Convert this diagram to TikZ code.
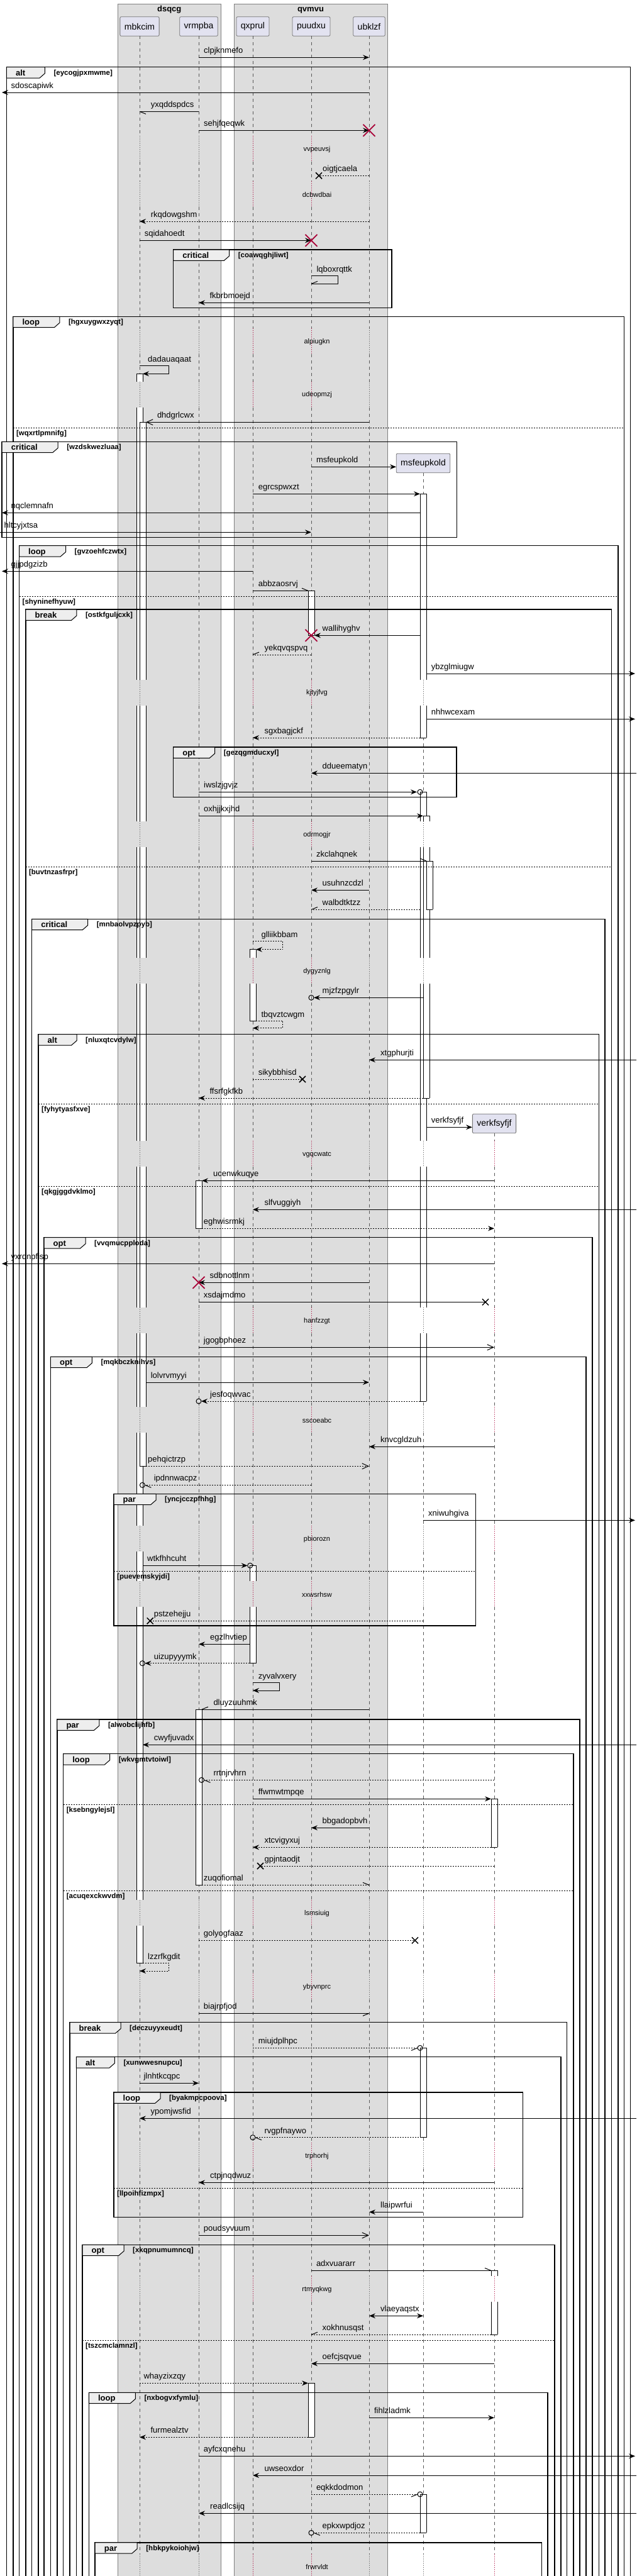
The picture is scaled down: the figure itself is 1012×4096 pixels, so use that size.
\documentclass[tikz,border=0pt]{standalone}
\usepackage{fontspec}
\setmainfont{Liberation Sans}
\usetikzlibrary{arrows.meta}
\definecolor{grp}{HTML}{DDDDDD}
\definecolor{partc}{HTML}{E2E2F0}
\definecolor{tabc}{HTML}{EEEEEE}
\definecolor{crim}{HTML}{A80036}
\tikzset{
 msg/.style={line width=1pt},
 dt/.style={dash pattern=on 2pt off 2pt},
 fh/.style={-{Stealth[length=10pt,width=8pt,inset=3.5pt]}},
 fhb/.style={{Stealth[length=10pt,width=8pt,inset=3.5pt]}-{Stealth[length=10pt,width=8pt,inset=3.5pt]}},
 oh/.style={-{Straight Barb[length=10pt,width=9pt]}},
 lab/.style={font=\fontsize{13}{15}\selectfont, anchor=base west, inner sep=0pt},
 dlab/.style={font=\fontsize{11}{13}\selectfont, inner sep=0pt},
 kindlab/.style={font=\fontsize{13}{15}\selectfont\bfseries, anchor=base west, inner sep=0pt},
 condlab/.style={font=\fontsize{11.5}{13}\selectfont\bfseries, anchor=base west, inner sep=0pt},
 grplab/.style={font=\fontsize{13}{15}\selectfont\bfseries, anchor=base, inner sep=0pt},
 pbox/.style={draw=black!55, line width=0.8pt, fill=partc, rounded corners=2pt, font=\fontsize{14}{16}\selectfont, inner xsep=7pt, inner ysep=0pt, minimum height=30.6pt},
 life/.style={draw=black!65, line width=0.6pt, dash pattern=on 5pt off 5pt},
 dly/.style={line width=0.7pt, dash pattern=on 1pt off 2pt},
}
\def\dashsegs{57.3/215.8, 256.8/287.8, 328.8/521.8, 562.8/606.5, 647.5/1080.5, 1121.5/1306.2, 1347.2/1523.2, 1564.2/1814.2, 1855.2/2078.8, 2119.8/2237.2, 2278.2/2425.8, 2466.8/2514.2, 2555.2/3021.2, 3062.2/3138.2, 3179.2/3406.8, 3447.8/3619.2, 3660.2/4060.5}
\def\dotsegs{215.8/256.8, 287.8/328.8, 521.8/562.8, 606.5/647.5, 1080.5/1121.5, 1306.2/1347.2, 1523.2/1564.2, 1814.2/1855.2, 2078.8/2119.8, 2237.2/2278.2, 2425.8/2466.8, 2514.2/2555.2, 3021.2/3062.2, 3138.2/3179.2, 3406.8/3447.8, 3619.2/3660.2, 4060.5/4101.5}
\newcommand\QLife[3]{%
 \foreach \p/\q in \dashsegs {\pgfmathsetmacro\pp{max(\p,#2)}\ifdim\pp pt<\q pt\relax\draw[life] (#1,\pp) -- (#1,\q);\fi}%
 \foreach \p/\q in \dotsegs {\pgfmathsetmacro\pp{max(\p,#2)}\ifdim\pp pt<\q pt\relax\draw[dly,#3] (#1,\pp) -- (#1,\q);\fi}}
\newcommand\QAS[4]{\fill[white] (#1,#3) rectangle (#2,#4); \draw[line width=0.8pt] (#1,#3) -- (#1,#4) (#2,#3) -- (#2,#4);}
\newcommand\QAH[3]{\draw[line width=0.8pt] (#1,#3) -- (#2,#3);}
\newcommand\QMsg[6]{\draw[msg,#4] (#1,#3) -- (#2,#3); \node[lab] (m#5) at (#6,#3-6.5) {#5};}
\newcommand\QSelf[8]{\draw[msg,#6] (#1,#3) -- (#2,#3) -- (#2,#4) -- (#5,#4); \node[lab] (m#7) at (#8,#3-6) {#7};}
\newcommand\QBarb[3]{\draw[msg] (#1,#2) -- ++(#3);}
\newcommand\QCirc[2]{\draw[msg] (#1,#2) circle[radius=4];}
\newcommand\QXb[2]{\draw[line width=1.5pt] (#1-5,#2-5) -- (#1+5,#2+5) (#1-5,#2+5) -- (#1+5,#2-5);}
\newcommand\QXr[2]{\draw[crim,line width=1.8pt] (#1-9.5,#2-9.5) -- (#1+9.5,#2+9.5) (#1-9.5,#2+9.5) -- (#1+9.5,#2-9.5);}
\newcommand\QFrm[8]{%
 \draw[line width=1.5pt] (#1,#3) rectangle (#2,#4);
 \draw[line width=1pt, fill=tabc] (#1,#3) -- (#1+#6,#3) -- (#1+#6,#3+10) -- (#1+#6-8.4,#3+17.3) -- (#1,#3+17.3) -- cycle;
 \node[kindlab] (k#8) at (#1+14.5,#3+13.5) {#5};
 \node[condlab] (c#8) at (#1+#6+14,#3+12.5) {#7};}
\newcommand\QSep[5]{\draw[line width=1pt,dt] (#1,#3) -- (#2,#3); \node[condlab] (s#4) at (#1+5,#3+12) {#5};}
\newcommand\QDly[2]{\node[dlab] (d#2) at (504,#1) {#2};}
\begin{document}
\begin{tikzpicture}[x=1pt,y=-1pt]
\useasboundingbox (0,0) rectangle (1012,4096);
\fill[white] (0,0) rectangle (1012,4096);
% group boxes
\fill[grp] (187.5,6) rectangle (351,4110);
\draw[black!50,line width=0.6pt] (187.5,4110) -- (187.5,6) -- (351,6) -- (351,4110);
\fill[grp] (372,6) rectangle (616,4110);
\draw[black!50,line width=0.6pt] (372,4110) -- (372,6) -- (616,6) -- (616,4110);
\node[grplab] (g-dsqcg) at (269.25,18) {dsqcg};
\node[grplab] (g-qvmvu) at (494,18) {qvmvu};
% participants
\node[pbox] (p-mbkcim) at (222,42) {mbkcim};
\node[pbox] (p-vrmpba) at (316,42) {vrmpba};
\node[pbox] (p-qxprul) at (402,42) {qxprul};
\node[pbox] (p-puudxu) at (495,42) {puudxu};
\node[pbox] (p-ubklzf) at (587,42) {ubklzf};
\node[pbox] (p-msf) at (673,736.5) {msfeupkold};
\node[pbox] (p-verk) at (786,1786.5) {verkfsyfjf};
% lifelines
\QLife{222}{57.3}{black!65}
\QLife{316}{57.3}{black!65}
\QLife{402}{57.3}{crim}
\QLife{495}{57.3}{crim}
\QLife{587}{57.3}{black!65}
\QLife{673}{752.3}{black!65}
\QLife{786}{1802.3}{crim}
% activations
\foreach \p/\q in {594.3/606.5, 647.5/1080.5, 1121.5/1306.2, 1347.2/1523.2, 1564.2/1814.2, 1855.2/2078.8, 2119.8/2237.2, 2278.2/2425.8, 2466.8/2514.2, 2555.2/3021.2, 3062.2/3121.3} {\QAS{217}{227}{\p}{\q}}
\QAH{217}{227}{594.3} \QAH{217}{227}{3121.3}
\foreach \p/\q in {671.3/1080.5, 1121.5/1306.2, 1347.2/1523.2, 1564.2/1814.2, 1855.2/2078.8, 2119.8/2237.2, 2278.2/2331.3} {\QAS{222}{232}{\p}{\q}}
\QAH{222}{232}{671.3} \QAH{222}{232}{2331.3}
\QAS{311}{321}{1877.3}{1953.3} \QAH{311}{321}{1877.3} \QAH{311}{321}{1953.3}
\QAS{311}{321}{2718}{2997.3} \QAH{311}{321}{2718} \QAH{311}{321}{2997.3}
\QAS{397}{407}{1509.7}{1523.2} \QAS{397}{407}{1564.2}{1623} \QAH{397}{407}{1509.7} \QAH{397}{407}{1623}
\QAS{397}{407}{2489.3}{2514.2} \QAS{397}{407}{2555.2}{2644.7} \QAH{397}{407}{2489.3} \QAH{397}{407}{2644.7}
\QAS{490}{500}{939.3}{1010.3} \QAH{490}{500}{939.3} \QAH{490}{500}{1010.3}
\QAS{490}{500}{3789.3}{3875.3} \QAH{490}{500}{3789.3} \QAH{490}{500}{3875.3}
\QAS{668}{678}{785.3}{1080.5} \QAS{668}{678}{1121.5}{1173} \QAH{668}{678}{785.3} \QAH{668}{678}{1173}
\foreach \p/\q in {1259.3/1306.2, 1347.2/1523.2, 1564.2/1814.2, 1855.2/2078.8, 2119.8/2228} {\QAS{668}{678}{\p}{\q}}
\QAH{668}{678}{1259.3} \QAH{668}{678}{2228}
\foreach \p/\q in {1297.3/1306.2, 1347.2/1523.2, 1564.2/1746} {\QAS{673}{683}{\p}{\q}}
\QAH{673}{683}{1297.3} \QAH{673}{683}{1746}
\QAS{678}{688}{1369}{1446.3} \QAH{678}{688}{1369} \QAH{678}{688}{1446.3}
\QAS{668}{678}{3256.3}{3398.7} \QAH{668}{678}{3256.3} \QAH{668}{678}{3398.7}
\QAS{668}{678}{3966}{4027.3} \QAH{668}{678}{3966} \QAH{668}{678}{4027.3}
\QAS{781}{791}{2860.3}{2937.3} \QAH{781}{791}{2860.3} \QAH{781}{791}{2937.3}
\QAS{781}{791}{3610.3}{3619.2} \QAS{781}{791}{3660.2}{3712.3} \QAH{781}{791}{3610.3} \QAH{781}{791}{3712.3}
% frames
\QFrm{10.4}{1002.6}{106.7}{4110}{alt}{61}{[eycogjpxmwme]}{f1}
\QFrm{275.7}{622.8}{397}{489.3}{critical}{89}{[coawqghjliwt]}{f2}
\QFrm{20.8}{992.5}{503.3}{4110}{loop}{74}{[hgxuygwxzyqt]}{f3}
\QSep{20.8}{992.5}{680.3}{s3a}{[wqxrtlpmnifg]}
\QFrm{3.2}{726.6}{702.3}{854.7}{critical}{89}{[wzdskwezluaa]}{f4}
\QFrm{30.5}{982.8}{867.7}{4110}{loop}{74}{[gvzoehfczwtx]}{f5}
\QSep{30.5}{982.8}{948.3}{s5a}{[shyninefhyuw]}
\QFrm{40.9}{972.4}{969}{4110}{break}{81}{[ostkfguljcxk]}{f6}
\QSep{40.9}{972.4}{1378}{s6a}{[buvtnzasfrpr]}
\QFrm{275.7}{726}{1188}{1267.7}{opt}{66}{[gezqgmducxyl]}{f7}
\QFrm{50.6}{962}{1461.3}{4110}{critical}{89}{[mnbaolvpzpyb]}{f8}
\QFrm{61}{952.3}{1644.7}{4110}{alt}{61}{[nluxqtcvdylw]}{f9}
\QSep{61}{952.3}{1755}{s9a}{[fyhytyasfxve]}
\QSep{61}{952.3}{1886}{s9b}{[qkgjggdvklmo]}
\QFrm{70}{942}{1967.7}{4110}{opt}{66}{[vvqmucpploda]}{f10}
\QFrm{80.4}{932.2}{2157.3}{4110}{opt}{66}{[mqkbczknihvs]}{f11}
\QFrm{181}{756.4}{2375.3}{2585}{par}{67}{[yncjcczpfhhg]}{f12}
\QSep{181}{756.4}{2498.3}{s12a}{[puevemskyjdi]}
\QFrm{90.8}{921.8}{2734}{4110}{par}{67}{[alwobclijhfb]}{f13}
\QFrm{100.6}{912}{2788.7}{4110}{loop}{74}{[wkvgmtvtoiwl]}{f14}
\QSep{100.6}{912}{2869.3}{s14a}{[ksebngylejsl]}
\QSep{100.6}{912}{3006.3}{s14b}{[acuqexckwvdm]}
\QFrm{111}{901.7}{3215.7}{4110}{break}{81}{[deczuyyxeudt]}{f15}
\QFrm{121.3}{892}{3270.7}{4110}{alt}{61}{[xunwwesnupcu]}{f16}
\QFrm{181}{831.7}{3327}{3525.7}{loop}{74}{[byakmpcpoova]}{f17}
\QSep{181}{831.7}{3479.3}{s17a}{[llpoihfizmpx]}
\QFrm{131}{882.2}{3569.3}{4110}{opt}{66}{[xkqpnumumncq]}{f18}
\QSep{131}{882.2}{3721.3}{s18a}{[tszcmclamnzl]}
\QFrm{141.4}{871.2}{3804.3}{4110}{loop}{74}{[nxbogvxfymlu]}{f19}
\QFrm{151.2}{861.5}{4042.7}{4110}{par}{67}{[hbkpykoiohjw]}{f20}
% messages
\QMsg{316}{587}{91.3}{fh}{clpjknmefo}{324}
\QMsg{587}{3}{147}{fh}{sdoscapiwk}{17.5}
\QMsg{316}{222}{177.3}{}{yxqddspdcs}{239.6} \QBarb{222}{177.3}{10,4}
\QMsg{316}{587}{207.3}{fh}{sehjfqeqwk}{324} \QXr{587}{207.3}
\QDly{237.3}{vvpeuvsj}
\QMsg{587}{507}{279.3}{dt}{oigtjcaela}{513} \QXb{507}{279.3}
\QDly{309.3}{dcbwdbai}
\QMsg{587}{222}{352}{dt,fh}{rkqdowgshm}{239.6}
\QMsg{222}{495}{382.3}{fh}{sqidahoedt}{229.6} \QXr{495}{382.3}
\QSelf{495}{537}{438.7}{451.3}{495}{}{lqboxrqttk}{503.4} \QBarb{495}{451.3}{10,-4}
\QMsg{587}{316}{481.3}{fh}{fkbrbmoejd}{333.4}
\QDly{543.3}{alpiugkn}
\QSelf{222}{268.6}{581}{594.3}{227}{fh}{dadauaqaat}{235}
\QDly{628}{udeopmzj}
\QMsg{587}{232}{671.3}{oh}{dhdgrlcwx}{249.8}
\QMsg{495}{630}{742.3}{fh}{msfeupkold}{502.8}
\QMsg{402}{668}{785.3}{fh}{egrcspwxzt}{410.6}
\QMsg{668}{3}{815.3}{fh}{nqclemnafn}{17.5}
\QMsg{0}{495}{846.3}{fh}{hltcyjxtsa}{6.5}
\QMsg{402}{3}{908.3}{fh}{gjjpdgzizb}{17.5}
\QMsg{402}{490}{939.3}{}{abbzaosrvj}{410.6} \QBarb{490}{939.3}{-10,-4}
\QMsg{668}{500}{1010.3}{fh}{wallihyghv}{512.5} \QXr{495}{1010.3}
\QMsg{495}{402}{1041}{dt}{yekqvqspvq}{420.4} \QBarb{402}{1041}{10,-4}
\QMsg{678}{1010}{1071}{fh}{ybzglmiugw}{685.7}
\QDly{1102}{kjtyjfvg}
\QMsg{678}{1010}{1143.3}{fh}{nhhwcexam}{685.7}
\QMsg{668}{402}{1173}{dt,fh}{sgxbagjckf}{420.4}
\QMsg{1012}{495}{1229.3}{fh}{ddueematyn}{512.5}
\QMsg{316}{663}{1259.3}{fh}{iwslzjgvjz}{324} \QCirc{668}{1259.3}
\QMsg{316}{673}{1297.3}{fh}{oxhjjkxjhd}{324}
\QDly{1327.7}{odrmogjr}
\QMsg{495}{678}{1369}{}{zkclahqnek}{502.8} \QBarb{678}{1369}{-10,-4}
\QMsg{587}{495}{1415.3}{fh}{usuhnzcdzl}{512.5}
\QMsg{668}{495}{1446.3}{dt}{walbdtktzz}{512.5} \QBarb{495}{1446.3}{10,-4}
\QSelf{402}{449.6}{1496.3}{1509.7}{407}{dt,fh}{glliikbbam}{415.4}
\QDly{1544.7}{dygyznlg}
\QMsg{673}{499}{1586.3}{fh}{mjzfzpgylr}{512.5} \QCirc{495}{1586.3}
\QSelf{407}{449.6}{1623}{1634.7}{402}{dt,fh}{tbqvztcwgm}{415.4}
\QMsg{1012}{587}{1685.3}{fh}{xtgphurjti}{605}
\QMsg{402}{481}{1716}{dt}{sikybbhisd}{410.6} \QXb{481}{1716}
\QMsg{673}{316}{1746}{dt,fh}{ffsrfgkfkb}{333.4}
\QMsg{678}{751}{1792.3}{fh}{verkfsyfjf}{685.7}
\QDly{1835.7}{vgqcwatc}
\QMsg{786}{321}{1877.3}{fh}{ucenwkuqye}{339}
\QMsg{1012}{402}{1923.3}{fh}{slfvuggiyh}{420.4}
\QMsg{321}{786}{1953.3}{dt,fh}{eghwisrmkj}{323.7}
\QMsg{786}{3}{2009.3}{fh}{yxrqnpfisp}{17.5}
\QMsg{587}{316}{2039.3}{fh}{sdbnottlnm}{333.4} \QXr{316}{2039.3}
\QMsg{316}{772}{2070.3}{}{xsdajmdmo}{323.7} \QXb{772}{2070.3}
\QDly{2100.3}{hanfzzgt}
\QMsg{316}{786}{2142.3}{oh}{jgogbphoez}{323.7}
\QMsg{232}{587}{2198}{fh}{lolvrvmyyi}{239.6}
\QMsg{668}{320}{2228}{dt,fh}{jesfoqwvac}{334} \QCirc{316}{2228}
\QDly{2258.7}{sscoeabc}
\QMsg{786}{587}{2300.3}{fh}{knvcgldzuh}{605}
\QMsg{232}{587}{2331.3}{dt,oh}{pehqictrzp}{235}
\QMsg{495}{230.4}{2361.3}{dt}{ipdnnwacpz}{244.6} \QCirc{226.4}{2361.3} \QBarb{230.4}{2361.3}{10,4}
\QMsg{673}{1010}{2417.3}{fh}{xniwuhgiva}{681}
\QDly{2447.3}{pbiorozn}
\QMsg{227}{393.7}{2489.3}{fh}{wtkfhhcuht}{234} \QCirc{397.7}{2489.3}
\QDly{2535.7}{xxwsrhsw}
\QMsg{673}{238.7}{2577.3}{dt}{pstzehejju}{244.6} \QXb{238.7}{2577.3}
\QMsg{397}{316}{2614.3}{fh}{egzlhvtiep}{334}
\QMsg{397}{230.4}{2644.7}{dt,fh}{uizupyyymk}{244.6} \QCirc{226.4}{2644.7}
\QSelf{402}{444.4}{2675.7}{2688}{402}{fh}{zyvalvxery}{410.6}
\QMsg{587}{321}{2718}{}{dluyzuuhmk}{339.3} \QBarb{321}{2718}{10,-4}
\QMsg{1012}{227}{2774.3}{fh}{cwyfjuvadx}{244.6}
\QMsg{786}{324.5}{2830.3}{dt}{rrtnjrvhrn}{339.3} \QCirc{320.5}{2830.3} \QBarb{324.5}{2830.3}{10,4}
\QMsg{402}{781}{2860.3}{fh}{ffwmwtmpqe}{410.6}
\QMsg{587}{495}{2906.3}{fh}{bbgadopbvh}{512.5}
\QMsg{781}{402}{2937.3}{dt,fh}{xtcvigyxuj}{420.4}
\QMsg{786}{414}{2967}{dt}{gpjntaodjt}{420.4} \QXb{414}{2967}
\QMsg{321}{587}{2997.3}{dt}{zuqofiomal}{323.7} \QBarb{587}{2997.3}{-10,-4}
\QDly{3042.7}{lsmsiuig}
\QMsg{316}{660}{3085.3}{dt}{golyogfaaz}{323.7} \QXb{660}{3085.3}
\QSelf{227}{268.6}{3121.3}{3134}{222}{dt,fh}{lzzrfkgdit}{235}
\QDly{3159.7}{ybyvnprc}
\QMsg{316}{587}{3201.3}{}{biajrpfjod}{323.7} \QBarb{587}{3201.3}{-10,4}
\QMsg{402}{664}{3256.3}{dt}{miujdplhpc}{410.6} \QCirc{668}{3256.3} \QBarb{664}{3256.3}{-10,4}
\QMsg{222}{316}{3312.3}{fh}{jlnhtkcqpc}{228.4}
\QMsg{1012}{222}{3368.3}{fh}{ypomjwsfid}{239.4}
\QMsg{678}{406}{3398.7}{dt}{rvgpfnaywo}{420.4} \QCirc{402}{3398.7} \QBarb{406}{3398.7}{10,4}
\QDly{3428.3}{trphorhj}
\QMsg{786}{316}{3470.3}{fh}{ctpjnqdwuz}{334}
\QMsg{673}{587}{3517.3}{fh}{llaipwrfui}{605}
\QMsg{316}{587}{3554.3}{oh}{poudsyvuum}{323.7}
\QMsg{495}{781}{3610.3}{}{adxvuararr}{502.8} \QBarb{781}{3610.3}{-10,-4}
\QDly{3640.7}{rtmyqkwg}
\QMsg{587}{673}{3682.3}{fhb}{vlaeyaqstx}{605}
\QMsg{781}{495}{3712.3}{dt}{xokhnusqst}{512.5} \QBarb{495}{3712.3}{10,-4}
\QMsg{786}{495}{3758.3}{fh}{oefcjsqvue}{512.5}
\QMsg{222}{490}{3789.3}{dt,fh}{whayzixzqy}{228.4}
\QMsg{587}{786}{3844.3}{fh}{fihlzladmk}{594.9}
\QMsg{490}{222}{3875.3}{dt,fh}{furmealztv}{239.4}
\QMsg{316}{1010}{3905.3}{fh}{ayfcxqnehu}{323.7}
\QMsg{1012}{402}{3936}{fh}{uwseoxdor}{420.4}
\QMsg{495}{664}{3966}{dt}{eqkkdodmon}{502.8} \QCirc{668}{3966} \QBarb{664}{3966}{-10,4}
\QMsg{1012}{316}{3996.3}{fh}{readlcsijq}{334}
\QMsg{668}{499}{4027.3}{dt}{epkxwpdjoz}{512.5} \QCirc{495}{4027.3} \QBarb{499}{4027.3}{10,4}
\QDly{4082}{frwrvldt}
\end{tikzpicture}
\end{document}
